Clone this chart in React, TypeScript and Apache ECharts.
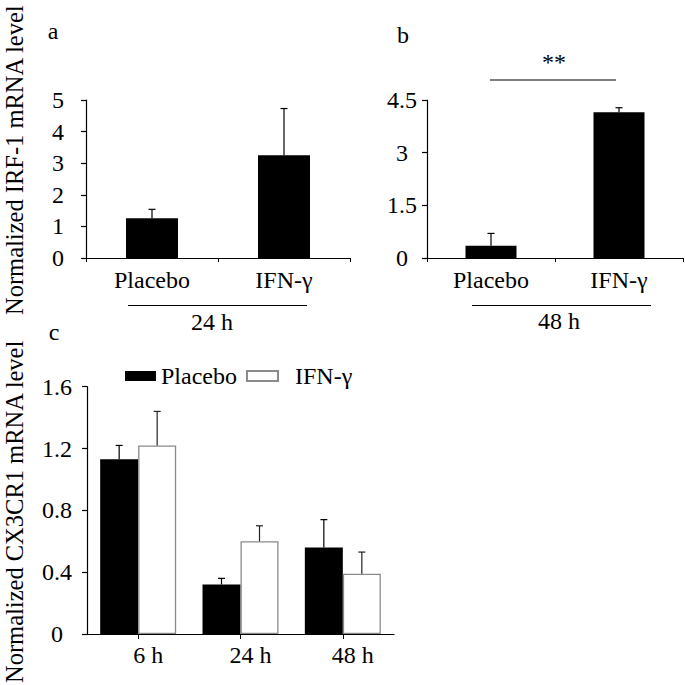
import React, { useEffect, useRef } from "react";
import * as echarts from "echarts";

// Panel a: IRF-1, 24 h
const aCategories = ["Placebo", "IFN-γ"];
const aMeans = [1.26, 3.25];
const aErrors = [0.28, 1.48];
const aTicks = { min: 0, max: 5, interval: 1 };

// Panel b: IRF-1, 48 h
const bCategories = ["Placebo", "IFN-γ"];
const bMeans = [0.35, 4.15];
const bErrors = [0.35, 0.13];
const bTicks = { min: 0, max: 4.5, interval: 1.5 };

// Panel c: CX3CR1
const cCategories = ["6 h", "24 h", "48 h"];
const cPlacebo = [1.13, 0.32, 0.56];
const cPlaceboErr = [0.09, 0.04, 0.18];
const cIfn = [1.22, 0.6, 0.39];
const cIfnErr = [0.22, 0.1, 0.14];
const cTicks = { min: 0, max: 1.6, interval: 0.4 };

const seriesNames = ["Placebo", "IFN-γ"];

const FONT = "'Liberation Serif', 'Times New Roman', serif";

const errData = (means: number[], errs: number[]) =>
  means.map((m, i) => [i, m, errs[i]]);

const makeErr = (offset: number, color: string) => (params: any, api: any) => {
  const x = api.value(0);
  const v = api.value(1);
  const e = api.value(2);
  const p0 = api.coord([x, v]);
  const p1 = api.coord([x, v + e]);
  const cx = p0[0] + offset;
  return {
    type: "group",
    children: [
      { type: "line", shape: { x1: cx, y1: p0[1], x2: cx, y2: p1[1] }, style: { stroke: color, lineWidth: 1.2 } },
      { type: "line", shape: { x1: cx - 3.5, y1: p1[1], x2: cx + 3.5, y2: p1[1] }, style: { stroke: color, lineWidth: 1.2 } },
    ],
  };
};

export default function App() {
  const ref = useRef<HTMLDivElement>(null);
  useEffect(() => {
    if (!ref.current) return;
    const chart = echarts.init(ref.current, null, { renderer: "svg" });
    const axisLine = { show: true, lineStyle: { color: "#000", width: 1.2 } };
    const labelStyle = { color: "#000", fontSize: 24, fontFamily: FONT };
    const yAxisBase = (t: any, margin: number) => ({
      type: "value",
      min: t.min,
      max: t.max,
      interval: t.interval,
      splitLine: { show: false },
      axisLine,
      axisTick: { show: true, length: 5, lineStyle: { color: "#000", width: 1.2 } },
      axisLabel: { ...labelStyle, margin, align: "center" },
    });
    const textEl = (text: string, x: number, y: number, size = 24) => ({
      type: "text",
      x,
      y,
      style: { text, fontSize: size, fontFamily: FONT, fill: "#000", align: "center", verticalAlign: "middle" },
    });
    const lineEl = (x1: number, x2: number, y: number) => ({
      type: "line",
      shape: { x1, y1: y, x2, y2: y },
      style: { stroke: "#000", lineWidth: 1.2 },
    });
    chart.setOption({
      animation: false,
      backgroundColor: "#fff",
      grid: [
        { left: 86, top: 100, width: 264, height: 158 },
        { left: 427, top: 100, width: 256, height: 158 },
        { left: 87, top: 386.7, width: 307, height: 247.3 },
      ],
      xAxis: [
        {
          type: "category",
          gridIndex: 0,
          data: aCategories,
          axisLine,
          axisTick: { show: true, length: 4, lineStyle: { color: "#000" } },
          axisLabel: { ...labelStyle, margin: 10 },
        },
        {
          type: "category",
          gridIndex: 1,
          data: bCategories,
          axisLine,
          axisTick: { show: true, length: 4, lineStyle: { color: "#000" } },
          axisLabel: { ...labelStyle, margin: 10 },
        },
        {
          type: "category",
          gridIndex: 2,
          data: cCategories,
          axisLine,
          axisTick: { show: true, alignWithLabel: true, length: 5, lineStyle: { color: "#000" } },
          axisLabel: { ...labelStyle, margin: 9, padding: [0, 0, 0, 20] },
        },
      ],
      yAxis: [
        { ...yAxisBase(aTicks, 28), gridIndex: 0 },
        { ...yAxisBase(bTicks, 25), gridIndex: 1 },
        { ...yAxisBase(cTicks, 30), gridIndex: 2 },
      ],
      legend: {
        data: seriesNames,
        left: 125,
        top: 364,
        padding: 0,
        itemWidth: 31,
        itemHeight: 10,
        itemGap: 9,
        icon: "rect",
        textStyle: { color: "#000", fontSize: 24, fontFamily: FONT },
        formatter: (n: string) => (n === "IFN-γ" ? "  " + n : n),
      },
      series: [
        {
          name: "IRF-1 24 h",
          type: "bar",
          xAxisIndex: 0,
          yAxisIndex: 0,
          data: aMeans,
          barWidth: 52,
          itemStyle: { color: "#000" },
        },
        {
          name: "IRF-1 24 h err",
          type: "custom",
          xAxisIndex: 0,
          yAxisIndex: 0,
          data: errData(aMeans, aErrors),
          encode: { x: 0, y: 1 },
          renderItem: makeErr(0, "#000"),
          z: 5,
        },
        {
          name: "IRF-1 48 h",
          type: "bar",
          xAxisIndex: 1,
          yAxisIndex: 1,
          data: bMeans,
          barWidth: 51,
          itemStyle: { color: "#000" },
        },
        {
          name: "IRF-1 48 h err",
          type: "custom",
          xAxisIndex: 1,
          yAxisIndex: 1,
          data: errData(bMeans, bErrors),
          encode: { x: 0, y: 1 },
          renderItem: makeErr(0, "#000"),
          z: 5,
        },
        {
          name: seriesNames[0],
          type: "bar",
          xAxisIndex: 2,
          yAxisIndex: 2,
          data: cPlacebo,
          barWidth: 38,
          barGap: "0%",
          itemStyle: { color: "#000", borderColor: "#000", borderWidth: 0 },
        },
        {
          name: seriesNames[1],
          type: "bar",
          xAxisIndex: 2,
          yAxisIndex: 2,
          data: cIfn,
          barWidth: 38,
          barGap: "0%",
          itemStyle: { color: "#fff", borderColor: "#8a8a8a", borderWidth: 1.3 },
        },
        {
          name: "c placebo err",
          type: "custom",
          xAxisIndex: 2,
          yAxisIndex: 2,
          data: errData(cPlacebo, cPlaceboErr),
          encode: { x: 0, y: 1 },
          renderItem: makeErr(-19, "#000"),
          z: 5,
        },
        {
          name: "c ifn err",
          type: "custom",
          xAxisIndex: 2,
          yAxisIndex: 2,
          data: errData(cIfn, cIfnErr),
          encode: { x: 0, y: 1 },
          renderItem: makeErr(19, "#222"),
          z: 5,
        },
      ],
      graphic: [
        textEl("a", 53, 31),
        textEl("b", 403, 35),
        textEl("c", 54, 332),
        textEl("**", 554, 62),
        lineEl(490, 616, 80),
        lineEl(128, 307, 305.5),
        textEl("24 h", 212, 322),
        lineEl(472, 651, 305.5),
        textEl("48 h", 559, 321),
        {
          type: "text",
          x: 14,
          y: 315,
          rotation: Math.PI / 2,
          style: { text: "Normalized IRF-1 mRNA level", fontSize: 24.5, fontFamily: FONT, fill: "#000", align: "left", verticalAlign: "middle" },
        },
        {
          type: "text",
          x: 14,
          y: 683,
          rotation: Math.PI / 2,
          style: { text: "Normalized CX3CR1 mRNA level", fontSize: 24.5, fontFamily: FONT, fill: "#000", align: "left", verticalAlign: "middle" },
        },
      ],
    });
    return () => chart.dispose();
  }, []);
  return (
    <div
      ref={ref}
      style={{ position: "fixed", left: 0, top: 0, width: 685, height: 685, background: "#fff" }}
    />
  );
}
